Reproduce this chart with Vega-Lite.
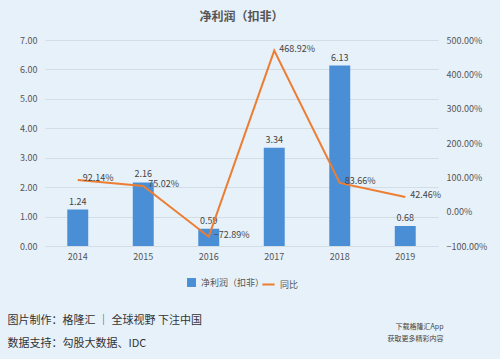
{
  "$schema": "https://vega.github.io/schema/vega-lite/v6.json",
  "autosize": "none",
  "width": 393,
  "height": 206,
  "padding": {"left": 45, "top": 40, "right": 62, "bottom": 113},
  "background": "#e7f1fa",
  "title": {
    "text": "净利润（扣非）",
    "font": "Noto Sans CJK SC",
    "fontSize": 12,
    "fontWeight": "bold",
    "color": "#555555",
    "anchor": "middle",
    "offset": 12
  },
  "config": {
    "view": {"stroke": null},
    "font": "Noto Sans CJK SC",
    "axis": {
      "labelFont": "Noto Sans CJK SC",
      "labelFontSize": 9,
      "labelColor": "#555555",
      "labelOverlap": false,
      "labelFlush": false,
      "labelBound": false,
      "domain": false,
      "ticks": false
    }
  },
  "data": {
    "values": [
      {"year": "2014", "profit": 1.24, "yoy": 0.9214},
      {"year": "2015", "profit": 2.16, "yoy": 0.7502},
      {"year": "2016", "profit": 0.59, "yoy": -0.7289},
      {"year": "2017", "profit": 3.34, "yoy": 4.6892},
      {"year": "2018", "profit": 6.13, "yoy": 0.8366},
      {"year": "2019", "profit": 0.68, "yoy": 0.4246}
    ]
  },
  "encoding": {
    "x": {
      "field": "year",
      "type": "ordinal",
      "scale": {"paddingInner": 0.68, "paddingOuter": 0.34},
      "axis": {
        "labelAngle": 0,
        "labelPadding": 6,
        "grid": false,
        "title": ["图片制作：格隆汇 ｜ 全球视野 下注中国", "数据支持：勾股大数据、IDC"],
        "titleFont": "Noto Sans CJK SC",
        "titleFontSize": 11,
        "titleFontWeight": "normal",
        "titleColor": "#333333",
        "titleAnchor": "start",
        "titleAlign": "left",
        "titleBaseline": "top",
        "titleLineHeight": 23,
        "titleX": -38,
        "titleY": 68
      }
    }
  },
  "layer": [
    {
      "encoding": {
        "y": {
          "field": "profit",
          "type": "quantitative",
          "scale": {"domain": [0, 7]},
          "axis": {
            "format": ".2f",
            "values": [0, 1, 2, 3, 4, 5, 6, 7],
            "labelOverlap": false,
            "gridColor": "#d3dde6",
            "gridWidth": 1,
            "labelPadding": 8,
            "title": null
          }
        }
      },
      "layer": [
        {
          "mark": {"type": "bar"},
          "encoding": {
            "color": {
              "datum": "净利润（扣非）",
              "scale": {"range": ["#4a8fd6"]},
              "legend": {
                "orient": "none",
                "legendX": 141,
                "legendY": 237,
                "title": null,
                "symbolType": "square",
                "symbolSize": 80,
                "labelFontSize": 9,
                "labelColor": "#555555",
                "labelFont": "Noto Sans CJK SC"
              }
            }
          }
        },
        {
          "mark": {"type": "text", "dy": -8, "fontSize": 9, "color": "#444444"},
          "encoding": {
            "text": {"field": "profit", "type": "quantitative", "format": ".2f"}
          }
        }
      ]
    },
    {
      "encoding": {
        "y": {
          "field": "yoy",
          "type": "quantitative",
          "scale": {"domain": [-1, 5]},
          "axis": {
            "orient": "right",
            "format": ".2%",
            "values": [-1, 0, 1, 2, 3, 4, 5],
            "labelOverlap": false,
            "grid": false,
            "labelPadding": 8,
            "title": ["下载格隆汇App", "获取更多精彩内容"],
            "titleAngle": 0,
            "titleFontSize": 7,
            "titleFontWeight": "normal",
            "titleColor": "#444444",
            "titleAlign": "right",
            "titleBaseline": "top",
            "titleLineHeight": 12,
            "titleX": 5,
            "titleY": 282
          }
        }
      },
      "layer": [
        {
          "mark": {"type": "line", "strokeWidth": 2},
          "encoding": {
            "stroke": {
              "datum": "同比",
              "scale": {"range": ["#ed7d31"]},
              "legend": {
                "orient": "none",
                "legendX": 216,
                "legendY": 237,
                "title": null,
                "symbolType": "stroke",
                "symbolSize": 150,
                "symbolStrokeWidth": 2,
                "labelFontSize": 9,
                "labelColor": "#555555",
                "labelFont": "Noto Sans CJK SC"
              }
            }
          }
        },
        {
          "mark": {"type": "text", "align": "left", "dx": 5, "dy": -2, "fontSize": 9, "color": "#444444"},
          "encoding": {
            "text": {"field": "yoy", "type": "quantitative", "format": ".2%"}
          }
        }
      ]
    }
  ],
  "resolve": {"scale": {"y": "independent", "color": "independent"}}
}
